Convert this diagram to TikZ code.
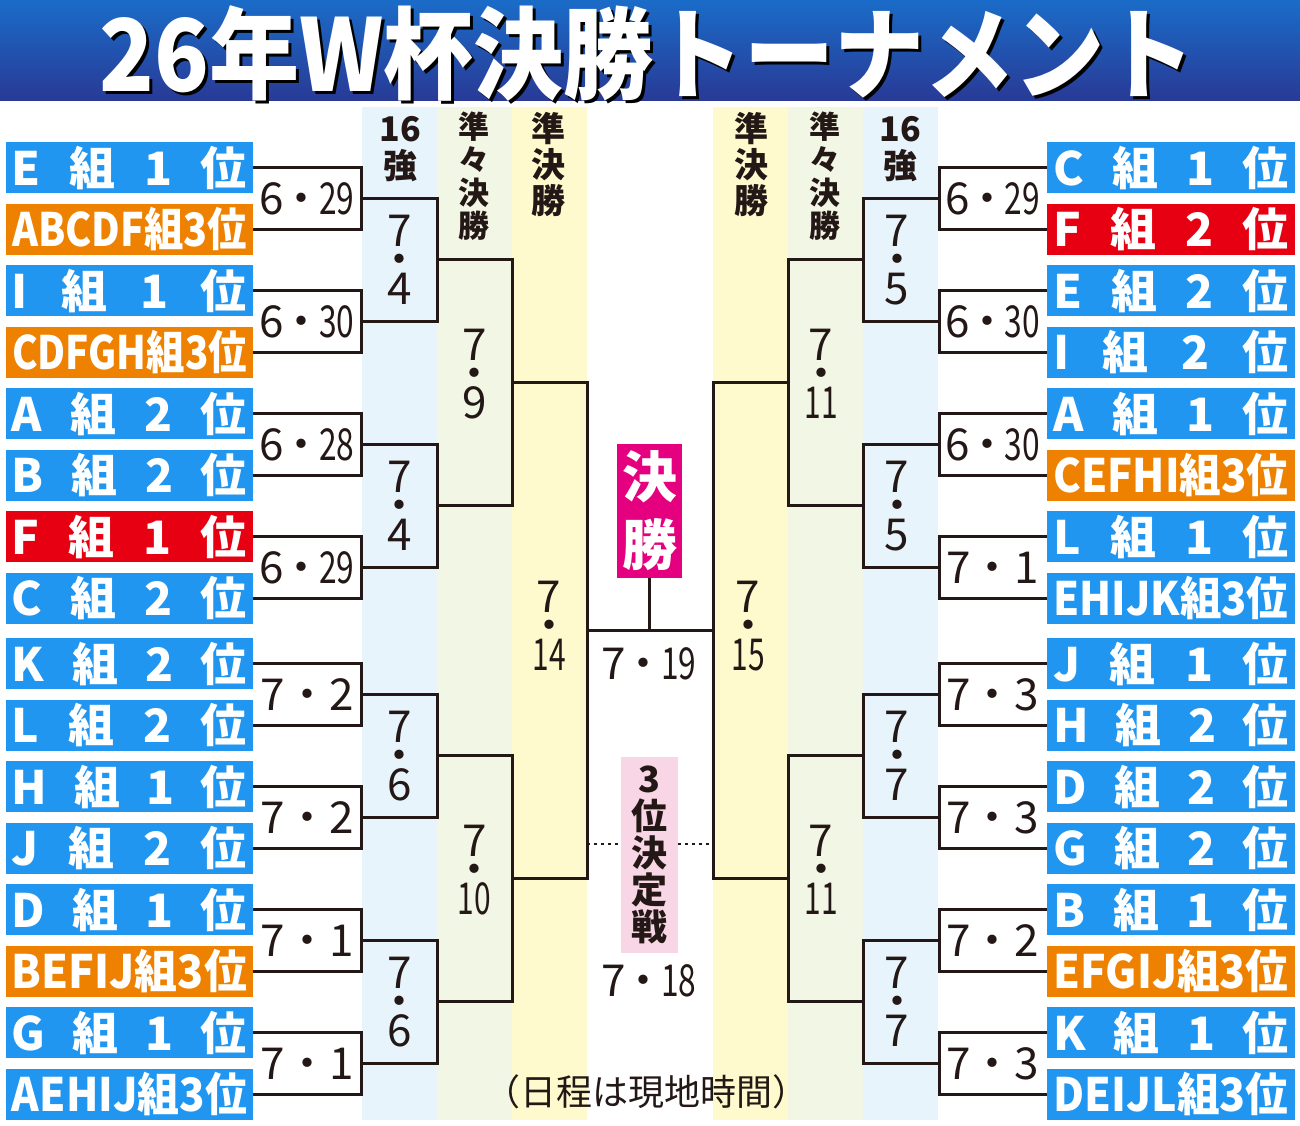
\documentclass[tikz,border=0pt]{standalone}
\usepackage{fontspec}
\usepackage{graphicx}
\newfontfamily\jp{Noto Sans CJK JP}
\AtBeginDocument{\lineskiplimit=-100pt\relax}
\definecolor{ink}{RGB}{35,24,21}
\definecolor{tblue}{RGB}{33,150,240}
\definecolor{torange}{RGB}{238,130,0}
\definecolor{tred}{RGB}{230,0,18}
\definecolor{fmag}{RGB}{228,0,127}
\definecolor{fpink}{RGB}{248,214,230}
\definecolor{cbA}{RGB}{232,244,252}
\definecolor{cbB}{RGB}{242,246,228}
\definecolor{cbC}{RGB}{255,250,205}
\definecolor{ttop}{RGB}{26,108,200}
\definecolor{tbot}{RGB}{40,58,150}
\newcommand\teamf[4]{\hbox to 235pt{#1\hfill#2\hfill#3\hfill#4}}
\newcommand\teaml[1]{\resizebox{235pt}{\height}{#1}}
\newcommand\dtwo[2]{#1\kern-0.1em・\kern-0.1em\scalebox{0.72}[1]{#2}}
\newcommand\done[2]{#1・#2}
\newcommand\vone[2]{#1\\・\\#2}
\newcommand\vtwo[2]{#1\\・\\\scalebox{0.68}[1]{#2}}
\tikzset{
  team/.style={minimum width=247.5pt, minimum height=51pt, inner sep=0pt, text=white,
    font=\jp\bfseries\fontsize{46}{46}\selectfont, text height=38pt, text depth=3pt},
  hdate/.style={inner sep=0pt, text=ink, font=\jp\fontsize{44}{44}\selectfont, text height=32pt, text depth=0pt},
  vdatest/.style={inner sep=0pt, text=ink, align=center,
    font=\jp\fontsize{44}{29}\selectfont},
  head/.style={inner sep=0pt, text=ink, align=center},
  br/.style={draw=ink, line width=3pt},
  dotl/.style={draw=ink, line width=2.5pt, dash pattern=on 3pt off 4pt},
}
\begin{document}
\begin{tikzpicture}[x=1pt,y=-1pt]
\useasboundingbox (0,0) rectangle (1300,1125);
\fill[white] (0,0) rectangle (1300,1125);
% title bar
\shade[top color=ttop, bottom color=tbot] (0,0) rectangle (1300,100);
\node[text=black, inner sep=0pt, font=\jp\bfseries\fontsize{100}{100}\selectfont] (titleshadow) at (650,56) {\resizebox{1095pt}{\height}{26年W杯決勝トーナメント}};
\node[text=white, inner sep=0pt, font=\jp\bfseries\fontsize{100}{100}\selectfont] (title) at (647,53) {\resizebox{1095pt}{\height}{26年W杯決勝トーナメント}};
% column backgrounds
\fill[cbA] (362,107) rectangle (437,1120);
\fill[cbB] (437,107) rectangle (512,1120);
\fill[cbC] (512,107) rectangle (587,1120);
\fill[cbC] (713,107) rectangle (788,1120);
\fill[cbB] (788,107) rectangle (863,1120);
\fill[cbA] (863,107) rectangle (938,1120);
% headers
\node[head, font=\jp\bfseries\fontsize{34}{37}\selectfont] (hL16) at (400,149) {16\\強};
\node[head, font=\jp\bfseries\fontsize{31}{33}\selectfont] (hLqf) at (474,176) {準\\々\\決\\勝};
\node[head, font=\jp\bfseries\fontsize{34}{36}\selectfont] (hLsf) at (548,164) {準\\決\\勝};
\node[head, font=\jp\bfseries\fontsize{34}{36}\selectfont] (hRsf) at (751,164) {準\\決\\勝};
\node[head, font=\jp\bfseries\fontsize{31}{33}\selectfont] (hRqf) at (825,176) {準\\々\\決\\勝};
\node[head, font=\jp\bfseries\fontsize{34}{37}\selectfont] (hR16) at (900,149) {16\\強};
% left teams
\node[team, fill=tblue]   (L1)  at (129.5,167.5) {\teamf{E}{組}{1}{位}};
\node[team, fill=torange] (L2)  at (129.5,229)   {\teaml{ABCDF組3位}};
\node[team, fill=tblue]   (L3)  at (129.5,290.5) {\teamf{I}{組}{1}{位}};
\node[team, fill=torange] (L4)  at (129.5,352)   {\teaml{CDFGH組3位}};
\node[team, fill=tblue]   (L5)  at (129.5,413.5) {\teamf{A}{組}{2}{位}};
\node[team, fill=tblue]   (L6)  at (129.5,475)   {\teamf{B}{組}{2}{位}};
\node[team, fill=tred]    (L7)  at (129.5,536.5) {\teamf{F}{組}{1}{位}};
\node[team, fill=tblue]   (L8)  at (129.5,598)   {\teamf{C}{組}{2}{位}};
\node[team, fill=tblue]   (L9)  at (129.5,663.5) {\teamf{K}{組}{2}{位}};
\node[team, fill=tblue]   (L10) at (129.5,725)   {\teamf{L}{組}{2}{位}};
\node[team, fill=tblue]   (L11) at (129.5,786.5) {\teamf{H}{組}{1}{位}};
\node[team, fill=tblue]   (L12) at (129.5,848)   {\teamf{J}{組}{2}{位}};
\node[team, fill=tblue]   (L13) at (129.5,909.5) {\teamf{D}{組}{1}{位}};
\node[team, fill=torange] (L14) at (129.5,971)   {\teaml{BEFIJ組3位}};
\node[team, fill=tblue]   (L15) at (129.5,1032.5){\teamf{G}{組}{1}{位}};
\node[team, fill=tblue]   (L16) at (129.5,1094)  {\teaml{AEHIJ組3位}};
% right teams
\node[team, fill=tblue]   (R1)  at (1171,167.5) {\teamf{C}{組}{1}{位}};
\node[team, fill=tred]    (R2)  at (1171,229)   {\teamf{F}{組}{2}{位}};
\node[team, fill=tblue]   (R3)  at (1171,290.5) {\teamf{E}{組}{2}{位}};
\node[team, fill=tblue]   (R4)  at (1171,352)   {\teamf{I}{組}{2}{位}};
\node[team, fill=tblue]   (R5)  at (1171,413.5) {\teamf{A}{組}{1}{位}};
\node[team, fill=torange] (R6)  at (1171,475)   {\teaml{CEFHI組3位}};
\node[team, fill=tblue]   (R7)  at (1171,536.5) {\teamf{L}{組}{1}{位}};
\node[team, fill=tblue]   (R8)  at (1171,598)   {\teaml{EHIJK組3位}};
\node[team, fill=tblue]   (R9)  at (1171,663.5) {\teamf{J}{組}{1}{位}};
\node[team, fill=tblue]   (R10) at (1171,725)   {\teamf{H}{組}{2}{位}};
\node[team, fill=tblue]   (R11) at (1171,786.5) {\teamf{D}{組}{2}{位}};
\node[team, fill=tblue]   (R12) at (1171,848)   {\teamf{G}{組}{2}{位}};
\node[team, fill=tblue]   (R13) at (1171,909.5) {\teamf{B}{組}{1}{位}};
\node[team, fill=torange] (R14) at (1171,971)   {\teaml{EFGIJ組3位}};
\node[team, fill=tblue]   (R15) at (1171,1032.5){\teamf{K}{組}{1}{位}};
\node[team, fill=tblue]   (R16) at (1171,1094)  {\teaml{DEIJL組3位}};
% bracket corner coordinates (left)
\coordinate (LP1) at (361,198.25);  \coordinate (LP2) at (361,321.25);
\coordinate (LP3) at (361,444.25);  \coordinate (LP4) at (361,567.25);
\coordinate (LP5) at (361,694.25);  \coordinate (LP6) at (361,817.25);
\coordinate (LP7) at (361,940.25);  \coordinate (LP8) at (361,1063.25);
\coordinate (LQ1) at (437,259.75);  \coordinate (LQ2) at (437,505.75);
\coordinate (LQ3) at (437,755.75);  \coordinate (LQ4) at (437,1001.75);
\coordinate (LR1) at (512,382.75);  \coordinate (LR2) at (512,878.75);
\coordinate (LS)  at (587,630.75);
% right
\coordinate (RP1) at (939,198.25);  \coordinate (RP2) at (939,321.25);
\coordinate (RP3) at (939,444.25);  \coordinate (RP4) at (939,567.25);
\coordinate (RP5) at (939,694.25);  \coordinate (RP6) at (939,817.25);
\coordinate (RP7) at (939,940.25);  \coordinate (RP8) at (939,1063.25);
\coordinate (RQ1) at (863,259.75);  \coordinate (RQ2) at (863,505.75);
\coordinate (RQ3) at (863,755.75);  \coordinate (RQ4) at (863,1001.75);
\coordinate (RR1) at (788,382.75);  \coordinate (RR2) at (788,878.75);
\coordinate (RS)  at (713,630.75);
% left brackets
\draw[br] (L1.east) -| (LP1) |- (L2.east);
\draw[br] (L3.east) -| (LP2) |- (L4.east);
\draw[br] (L5.east) -| (LP3) |- (L6.east);
\draw[br] (L7.east) -| (LP4) |- (L8.east);
\draw[br] (L9.east) -| (LP5) |- (L10.east);
\draw[br] (L11.east) -| (LP6) |- (L12.east);
\draw[br] (L13.east) -| (LP7) |- (L14.east);
\draw[br] (L15.east) -| (LP8) |- (L16.east);
\draw[br] (LP1) -| (LQ1) |- (LP2);
\draw[br] (LP3) -| (LQ2) |- (LP4);
\draw[br] (LP5) -| (LQ3) |- (LP6);
\draw[br] (LP7) -| (LQ4) |- (LP8);
\draw[br] (LQ1) -| (LR1) |- (LQ2);
\draw[br] (LQ3) -| (LR2) |- (LQ4);
\draw[br] (LR1) -| (LS) |- (LR2);
% right brackets
\draw[br] (R1.west) -| (RP1) |- (R2.west);
\draw[br] (R3.west) -| (RP2) |- (R4.west);
\draw[br] (R5.west) -| (RP3) |- (R6.west);
\draw[br] (R7.west) -| (RP4) |- (R8.west);
\draw[br] (R9.west) -| (RP5) |- (R10.west);
\draw[br] (R11.west) -| (RP6) |- (R12.west);
\draw[br] (R13.west) -| (RP7) |- (R14.west);
\draw[br] (R15.west) -| (RP8) |- (R16.west);
\draw[br] (RP1) -| (RQ1) |- (RP2);
\draw[br] (RP3) -| (RQ2) |- (RP4);
\draw[br] (RP5) -| (RQ3) |- (RP6);
\draw[br] (RP7) -| (RQ4) |- (RP8);
\draw[br] (RQ1) -| (RR1) |- (RQ2);
\draw[br] (RQ3) -| (RR2) |- (RQ4);
\draw[br] (RR1) -| (RS) |- (RR2);
% final
\draw[br] (LS) -- (RS);
\node[fill=fmag, minimum width=65pt, minimum height=134pt, inner sep=0pt, text=white, align=center,
  font=\jp\bfseries\fontsize{55}{68}\selectfont] (final) at (649.5,511) {決\\勝};
\draw[br] (final.south) -- (final.south |- LS);
\node[hdate] (dfinal) at (649,663) {\dtwo{7}{19}};
% third place
\node[fill=fpink, minimum width=57pt, minimum height=196pt, inner sep=0pt, text=ink, align=center,
  font=\jp\bfseries\fontsize{36}{37}\selectfont] (third) at (649.5,855) {3\\位\\決\\定\\戦};
\coordinate (tp) at (650,844);
\draw[dotl] (LS |- tp) -- (third.west |- tp);
\draw[dotl] (third.east |- tp) -- (RS |- tp);
\node[hdate] (dthird) at (649,980) {\dtwo{7}{18}};
% left dates
\node[hdate] (dl1) at (307,198.25) {\dtwo{6}{29}};
\node[hdate] (dl2) at (307,321.25) {\dtwo{6}{30}};
\node[hdate] (dl3) at (307,444.25) {\dtwo{6}{28}};
\node[hdate] (dl4) at (307,567.25) {\dtwo{6}{29}};
\node[hdate] (dl5) at (307,694.25) {\done{7}{2}};
\node[hdate] (dl6) at (307,817.25) {\done{7}{2}};
\node[hdate] (dl7) at (307,940.25) {\done{7}{1}};
\node[hdate] (dl8) at (307,1063.25) {\done{7}{1}};
\node[vdatest] (ql1) at (399.5,259.75) {\vone{7}{4}};
\node[vdatest] (ql2) at (399.5,505.75) {\vone{7}{4}};
\node[vdatest] (ql3) at (399.5,755.75) {\vone{7}{6}};
\node[vdatest] (ql4) at (399.5,1001.75) {\vone{7}{6}};
\node[vdatest] (rl1) at (474.5,373.75) {\vone{7}{9}};
\node[vdatest] (rl2) at (474.5,869.75) {\vtwo{7}{10}};
\node[vdatest] (sl)  at (549,626) {\vtwo{7}{14}};
% right dates
\node[hdate] (dr1) at (992.5,198.25) {\dtwo{6}{29}};
\node[hdate] (dr2) at (992.5,321.25) {\dtwo{6}{30}};
\node[hdate] (dr3) at (992.5,444.25) {\dtwo{6}{30}};
\node[hdate] (dr4) at (992.5,567.25) {\done{7}{1}};
\node[hdate] (dr5) at (992.5,694.25) {\done{7}{3}};
\node[hdate] (dr6) at (992.5,817.25) {\done{7}{3}};
\node[hdate] (dr7) at (992.5,940.25) {\done{7}{2}};
\node[hdate] (dr8) at (992.5,1063.25) {\done{7}{3}};
\node[vdatest] (qr1) at (897,259.75) {\vone{7}{5}};
\node[vdatest] (qr2) at (897,505.75) {\vone{7}{5}};
\node[vdatest] (qr3) at (897,755.75) {\vone{7}{7}};
\node[vdatest] (qr4) at (897,1001.75) {\vone{7}{7}};
\node[vdatest] (rr1) at (821,373.75) {\vtwo{7}{11}};
\node[vdatest] (rr2) at (821,869.75) {\vtwo{7}{11}};
\node[vdatest] (sr)  at (748,626) {\vtwo{7}{15}};
% note
\node[inner sep=0pt, text=ink, font=\jp\fontsize{36}{36}\selectfont] (note) at (646,1092) {（日程は現地時間）};
\end{tikzpicture}
\end{document}
